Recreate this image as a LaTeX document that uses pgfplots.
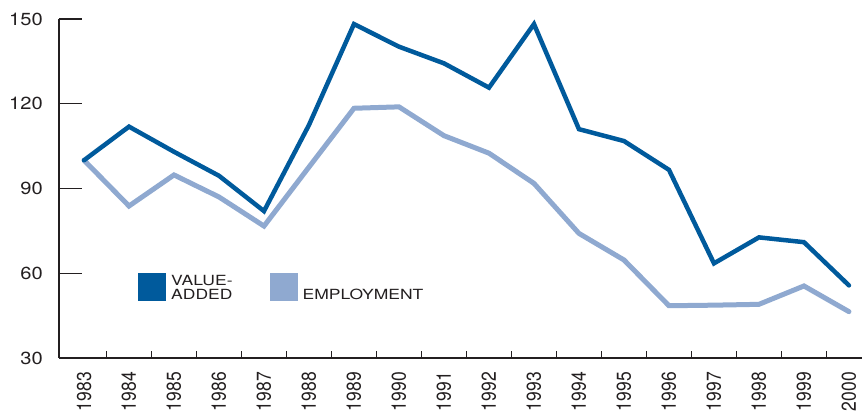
\documentclass[border=0pt]{standalone}
\usepackage{fontspec}
\setmainfont{TeX Gyre Heros}
\usepackage{pgfplots}
\pgfplotsset{compat=1.18}
\definecolor{vadd}{RGB}{0,90,156}
\definecolor{empl}{RGB}{143,169,208}
\definecolor{axisgray}{RGB}{35,31,32}
\renewcommand{\arraystretch}{1}

\begin{document}
\begin{tikzpicture}[x=1pt,y=1pt]
\useasboundingbox (0,0) rectangle (862,420);
\begin{axis}[
    at={(59pt,62pt)}, anchor=south west,
    scale only axis, width=803pt, height=339pt,
    xmin=1982.444, xmax=2000.29,
    ymin=30, ymax=150,
    axis lines*=left,
    axis line style={axisgray, line width=1.3pt},
    tick align=inside,
    ytick={30,60,90,120,150},
    ytick pos=left,
    xtick={1983,...,2000},
    xtick pos=bottom,
    minor xtick={1983.5,1984.5,...,1999.5},
    major tick length=23pt,
    minor tick length=7pt,
    tick style={axisgray, line width=1.2pt},
    major x tick style={draw=none},
    scaled x ticks=false,
    /pgf/number format/1000 sep={},
    /pgf/number format/assume math mode=true,
    xticklabel style={font=\fontsize{17.5}{18}\selectfont, text=axisgray,
        yshift=-14pt, xscale=1.15, rotate=90, anchor=east, inner sep=0pt},
    yticklabel style={font=\fontsize{17.5}{18}\selectfont, text=axisgray,
        xshift=-16pt, xscale=1.15, anchor=east, inner sep=0pt},
    legend columns=2,
    reverse legend,
    legend image code/.code={\fill[#1, draw=none] (0pt,-1.5pt) rectangle (28pt,26.5pt);},
    legend style={at={(0.0984,0.1681)}, anchor=south west,
        draw=none, fill=none, inner sep=0pt,
        font=\fontsize{14}{13.6}\selectfont, text=axisgray,
        cells={anchor=base west},
        nodes={inner sep=0pt},
        /tikz/every odd column/.append style={column sep=5pt},
        /tikz/every even column/.append style={column sep=37pt}},
]
% employment
\addplot[empl, line width=5pt, line join=miter, line cap=round] coordinates {
    (1983,100)(1984,83.8)(1985,94.8)(1986,87)(1987,76.7)(1988,97.6)
    (1989,118.4)(1990,118.9)(1991,108.7)(1992,102.5)(1993,91.8)(1994,74.1)
    (1995,64.7)(1996,48.5)(1997,48.7)(1998,49)(1999,55.5)(2000,46.4)
};
\addlegendentry{\scalebox{1.25}[1]{EMPLOYMENT}}
% value-added
\addplot[vadd, line width=4.5pt, line join=miter, line cap=round] coordinates {
    (1983,100)(1984,111.9)(1985,103)(1986,94.5)(1987,82)(1988,112.5)
    (1989,148.2)(1990,140.2)(1991,134.3)(1992,125.7)(1993,148.2)(1994,111)
    (1995,106.8)(1996,96.6)(1997,63.5)(1998,72.7)(1999,71)(2000,55.7)
};
\addlegendentry{\scalebox{1.25}[1]{\begin{tabular}[b]{@{}l@{}}VALUE-\\ADDED\end{tabular}}}
\end{axis}
\end{tikzpicture}
\end{document}
